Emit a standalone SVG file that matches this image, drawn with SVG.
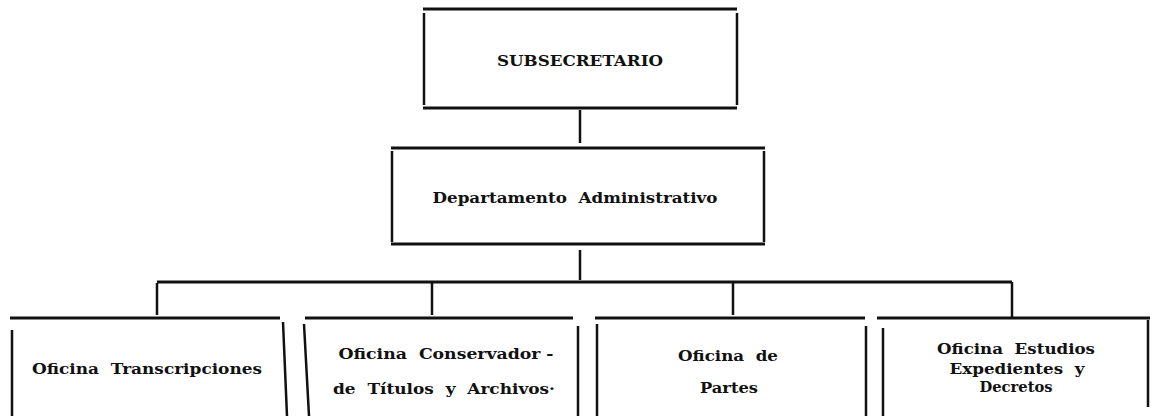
<svg xmlns="http://www.w3.org/2000/svg" width="1158" height="416" viewBox="0 0 1158 416">
<style>
.h{stroke:#111;stroke-width:3;fill:none}
.v{stroke:#111;stroke-width:2.5;fill:none}
.t{font-family:"DejaVu Serif","Liberation Serif",serif;font-size:14.5px;font-weight:bold;fill:#111;text-anchor:middle}
</style>
<rect width="1158" height="416" fill="#fff"/>
<g id="connectors">
<path class="v" d="M580 110V143"/>
<path class="v" d="M580 250V280"/>
<path class="h" d="M157 282H1012"/>
<path class="v" d="M157 283V315"/>
<path class="v" d="M432 283V315"/>
<path class="v" d="M733 283V315"/>
<path class="v" d="M1012 282V318"/>
</g>
<g id="subsecretario">
<path class="h" d="M423 9H737M423 108H737"/>
<path class="v" d="M424 13V105M737 13V105"/>
<text class="t" x="580" y="66" textLength="166" lengthAdjust="spacingAndGlyphs">SUBSECRETARIO</text>
</g>
<g id="departamento">
<path class="h" d="M391 148H765M391 244H765"/>
<path class="v" d="M392 151V242M764 151V242"/>
<text class="t" x="575" y="203" textLength="285" lengthAdjust="spacingAndGlyphs" xml:space="preserve">Departamento  Administrativo</text>
</g>
<g id="transcripciones">
<path class="h" d="M10 318H280"/>
<path class="v" d="M12 330V416M283 322L287 416"/>
<text class="t" x="147" y="374" textLength="230" lengthAdjust="spacingAndGlyphs" xml:space="preserve">Oficina  Transcripciones</text>
</g>
<g id="conservador">
<path class="h" d="M305 318H573"/>
<path class="v" d="M304 324L309 416M578 326V416"/>
<text class="t" x="446" y="359" textLength="215" lengthAdjust="spacingAndGlyphs" xml:space="preserve">Oficina  Conservador -</text>
<text class="t" x="444" y="394" textLength="222" lengthAdjust="spacingAndGlyphs" xml:space="preserve">de  Títulos  y  Archivos·</text>
</g>
<g id="partes">
<path class="h" d="M595 318H865"/>
<path class="v" d="M597 324V416M866 326V416"/>
<text class="t" x="728" y="361" textLength="100" lengthAdjust="spacingAndGlyphs" xml:space="preserve">Oficina  de</text>
<text class="t" x="729" y="393" textLength="58" lengthAdjust="spacingAndGlyphs">Partes</text>
</g>
<g id="estudios">
<path class="h" d="M877 318H1150"/>
<path class="v" d="M883 328V416M1148 320V407"/>
<text class="t" x="1016" y="354" textLength="158" lengthAdjust="spacingAndGlyphs" xml:space="preserve">Oficina  Estudios</text>
<text class="t" x="1017" y="374" textLength="135" lengthAdjust="spacingAndGlyphs" xml:space="preserve">Expedientes  y</text>
<text class="t" x="1016" y="392" textLength="73" lengthAdjust="spacingAndGlyphs">Decretos</text>
</g>
</svg>
